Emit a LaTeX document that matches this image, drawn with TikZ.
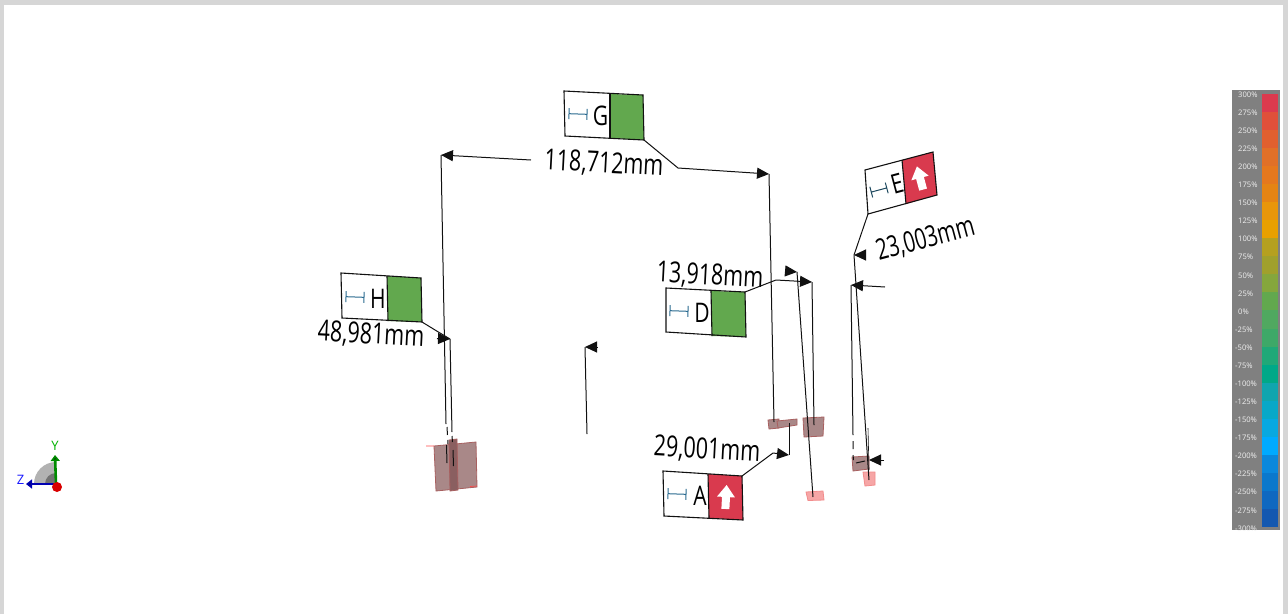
\documentclass[tikz,border=0pt]{standalone}
\usepackage{fontspec}
\setmainfont{Open Sans}
\usetikzlibrary{arrows.meta}
\definecolor{ln}{HTML}{111111}
\definecolor{tagred}{HTML}{D93A4E}
\definecolor{taggreen}{HTML}{62A84E}
\definecolor{icon}{HTML}{2A6A90}
\definecolor{icondark}{HTML}{1F4A60}
\definecolor{brownfill}{HTML}{A98888}
\definecolor{brownedge}{HTML}{A86060}
\definecolor{brownin}{HTML}{8A5F60}
\definecolor{pinkfill}{HTML}{F6A6A6}
\definecolor{pinkedge}{HTML}{F28C8C}
\tikzset{
  x=1pt,y=-1pt,
  wire/.style={draw=ln,line width=1pt,line join=round},
  tip/.style={wire,-{Triangle[length=12pt,width=11pt]}},
  tagline/.style={draw=ln,line width=1.1pt,line join=miter},
  dimtext/.style={inner sep=0pt,font=\fontsize{29}{29}\selectfont,text=black},
  tagletter/.style={inner sep=0pt,font=\fontsize{27}{27}\selectfont,text=black},
  brownrect/.style={fill=brownfill,draw=brownedge,line width=0.8pt},
  pinkrect/.style={fill=pinkfill,draw=pinkedge,line width=0.8pt},
  iconline/.style={line width=1pt},
  scalelabel/.style={inner sep=0pt,anchor=west,text=white!90!gray,font=\fontsize{7.6}{8}\selectfont},
}
% name, TL, TR, BR, BL, divider top, divider bottom, colour
\newcommand{\tagbox}[8]{%
  \coordinate (#1tl) at #2; \coordinate (#1tr) at #3;
  \coordinate (#1br) at #4; \coordinate (#1bl) at #5;
  \fill[white] (#1tl)--(#1tr)--(#1br)--(#1bl)--cycle;
  \fill[#8] #6--(#1tr)--(#1br)--#7--cycle;
  \draw[tagline] (#1tl)--(#1tr)--(#1br)--(#1bl)--cycle;
  \draw[tagline] #6--#7;
}
\newcommand{\dimicon}[4]{% centre, half width, rotation, colour
  \begin{scope}[shift={#1},rotate=#3]
    \draw[iconline,draw=#4] (-#2,0)--(#2,0) (-#2,-5.5)--(-#2,5.5) (#2,-5.5)--(#2,5.5);
  \end{scope}}
\newcommand{\uparrowmark}[2]{%
  \begin{scope}[shift={#1},rotate=#2]
    \fill[white] (0,-12)--(9,0)--(4,0)--(4,12)--(-4,12)--(-4,0)--(-9,0)--cycle;
  \end{scope}}
\begin{document}
\begin{tikzpicture}
\useasboundingbox (0,0) rectangle (1288,614);
\fill[white] (0,0) rectangle (1288,614);
% frame
\fill[black!16] (0,0) rectangle (1288,5);
\fill[black!16] (0,0) rectangle (3.5,614);
\fill[black!16] (1283,0) rectangle (1288,614);

% colour scale
\fill[gray!100] (1232,90) rectangle (1280,530);
\foreach \i/\c in {0/DC3A4E,1/E0503A,2/E0602F,3/E07028,4/E5781E,5/E58414,6/E8960A,7/E8A000,8/B5A020,9/A0A02C,10/85A63C,11/62A84E,12/50A860,13/3EA868,14/20A878,15/00A888,16/10A5AE,17/08A8C8,18/08A8E0,19/00AAFF,20/0A88DC,21/0A78CC,22/0F68C0,23/1458B0}{
  \definecolor{swatch}{HTML}{\c}
  \fill[swatch] (1262,{93.5+\i*18.08}) rectangle (1278,{93.5+(\i+1)*18.08});
}
\foreach \i/\t in {0/300,1/275,2/250,3/225,4/200,5/175,6/150,7/125,8/100,9/75,10/50,11/25,12/0}{
  \node[scalelabel] (pos\i) at (1238,{94.5+\i*18.08}) {\t\%};
}
\foreach \i/\t in {13/25,14/50,15/75,16/100,17/125,18/150,19/175,20/200,21/225,22/250,23/275,24/300}{
  \node[scalelabel] (neg\i) at (1235,{94.5+\i*18.08}) {-\t\%};
}

% feature rectangles
\filldraw[brownrect] (434,446)--(476,442)--(477,487)--(436,491)--cycle;
\filldraw[fill=brownin,draw=brownedge,line width=.8pt] (449,440)--(457,439)--(458,490)--(450,491)--cycle;
\draw[red!70,line width=.7pt] (426,446)--(434,446) (470,486.5)--(477,486);
\filldraw[brownrect] (768,420)--(779,419)--(779,428)--(769,429)--cycle;
\filldraw[brownrect] (777,421)--(797,419)--(797,425)--(778,428)--cycle;
\filldraw[brownrect] (803,418)--(824,417)--(823,436)--(804,437)--cycle;
\filldraw[pinkrect] (806,492)--(823,491)--(824,500)--(808,500.5)--cycle;
\filldraw[pinkrect] (863,472)--(875,472)--(875,485)--(865,486)--cycle;
\filldraw[brownrect] (852,457)--(869,456)--(869,469)--(853,471)--cycle;

% tags
\tagbox{G}{(564,91)}{(643,95)}{(644,140)}{(565,136)}{(610,94)}{(610,138)}{taggreen}
\tagbox{D}{(666,288)}{(745,292)}{(746,337)}{(666,332)}{(711,291)}{(712,336)}{taggreen}
\tagbox{A}{(663,471)}{(742,476)}{(743,520)}{(664,516)}{(708,474)}{(709,518)}{tagred}
\tagbox{E}{(865,170)}{(933,152)}{(937,195)}{(868,214)}{(902,160)}{(906,204)}{tagred}
\tagbox{H}{(341,273)}{(421,278)}{(422,322)}{(342,318)}{(387,276)}{(388,321)}{taggreen}
\dimicon{(578,114)}{9}{-2}{icon}
\dimicon{(679,311)}{9}{-2}{icon}
\dimicon{(677,494)}{9}{-2}{icon}
\dimicon{(355,297)}{9}{-2}{icon}
\dimicon{(879,190)}{8}{15}{icondark}
\node[tagletter] (letterG) at (600.5,116) {\scalebox{.78}[1]{G}};
\node[tagletter] (letterD) at (702,313) {\scalebox{.78}[1]{D}};
\node[tagletter] (letterA) at (700,496) {\scalebox{.78}[1]{A}};
\node[tagletter,rotate=15] (letterE) at (897,184) {\scalebox{.78}[1]{E}};
\node[tagletter] (letterH) at (378,299) {\scalebox{.78}[1]{H}};
\uparrowmark{(726,497)}{-3}
\uparrowmark{(920,178)}{15}

% dimension texts
\node[dimtext,rotate=-3] (tG) at (604,164) {\scalebox{.74}[1]{118,712mm}};
\node[dimtext,rotate=-3] (tD) at (710,276) {\scalebox{.74}[1]{13,918mm}};
\node[dimtext,rotate=-3] (tA) at (707,450) {\scalebox{.74}[1]{29,001mm}};
\node[dimtext,rotate=-3] (tH) at (371,335) {\scalebox{.74}[1]{48,981mm}};
\node[dimtext,rotate=15] (tE) at (925.5,239) {\scalebox{.7}[1]{23,003mm}};

% connector anchor points
\coordinate (gL) at (441,155);  \coordinate (gLtail) at (531,160);
\coordinate (gBend) at (678,168); \coordinate (gR) at (769,174);
\coordinate (gLd) at (446,424); \coordinate (gRd) at (774,422);
\coordinate (dBend) at (776,280); \coordinate (dR) at (812,282);
\coordinate (dRd) at (814,425);
\coordinate (d2) at (797,272); \coordinate (d2t) at (786,271); \coordinate (d2d) at (813,497);
\coordinate (aBend) at (773,453); \coordinate (aR) at (789,455); \coordinate (aRd) at (789,423);
\coordinate (hR) at (450,339); \coordinate (hBend) at (440,333); \coordinate (hRd) at (452,432);
\coordinate (hHead) at (437,338.5);
\coordinate (eP) at (854,255); \coordinate (eT) at (864,255);
\coordinate (e2) at (851,285); \coordinate (e2t) at (885,287);
\coordinate (e2d) at (853,435); \coordinate (eLow) at (869,480); \coordinate (eMid) at (856,285);
\coordinate (c1) at (585,347); \coordinate (c1t) at (597,347); \coordinate (c1d) at (587,434);
\coordinate (e3) at (869,460); \coordinate (e3t) at (884,460);

% connectors
\draw[tip] (gLtail)--(gL);
\draw[wire] (gL)--(gLd);
\draw[tip] (Gbr)--(gBend)--(gR);
\draw[wire] (gR)--(gRd);
\draw[wire] (Hbr)--(hBend)--(hR);
\draw[tip] (hHead)--(hR);
\draw[wire] (hR)--(hRd);
\draw[wire,dash pattern=on 8pt off 5pt] (447,427)--(448,444);
\draw[wire] (446.5,445)--(447,463);
\draw[wire] (452,436)--(452.5,442) (453,450)--(453.5,466);
\draw[tip] (Dtr)--(dBend)--(dR);
\draw[wire] (dR)--(dRd);
\draw[tip] (d2t)--(d2);
\draw[wire] (d2)--(d2d);
\draw[tip] (Atr)--(aBend)--(aR);
\draw[wire] (aR)--(aRd);
\draw[wire] (Ebl)--(eP)--(eMid)--(eLow);
\draw[tip] (eT)--(eP);
\draw[tip] (e2t)--(e2);
\draw[wire] (e2)--(e2d);
\draw[wire] (853,441)--(853,449) (853.2,455)--(853.3,460);
\draw[wire] (856,463)--(865,461);
\draw[wire,line width=.6pt] (868,428)--(869,470);
\draw[tip] (e3t)--(e3);
\draw[tip] (c1t)--(c1);
\draw[wire] (c1)--(c1d);

% axis triad
\fill[black!30] (56,484)--(34,484) arc[start angle=180,end angle=270,radius=22]--cycle;
\fill[black!55] (56,484)--(45,484) arc[start angle=180,end angle=270,radius=11]--cycle;
\draw[draw=green!55!black,line width=2.6pt,-{Triangle[length=6pt,width=9pt,fill=green!30!black]}] (56,484)--(55,455);
\draw[draw=blue!70!black,line width=2.6pt,-{Triangle[length=6pt,width=9pt,fill=blue!50!black]}] (56,484)--(26,484);
\fill[red!85!black] (57,487) circle[radius=5];
\node[inner sep=0pt,text=green!70!black,font=\fontsize{13}{13}\selectfont] (axisY) at (55,446) {Y};
\node[inner sep=0pt,text=blue!90!white,font=\fontsize{13}{13}\selectfont] (axisZ) at (20.5,480) {Z};
\end{tikzpicture}
\end{document}
